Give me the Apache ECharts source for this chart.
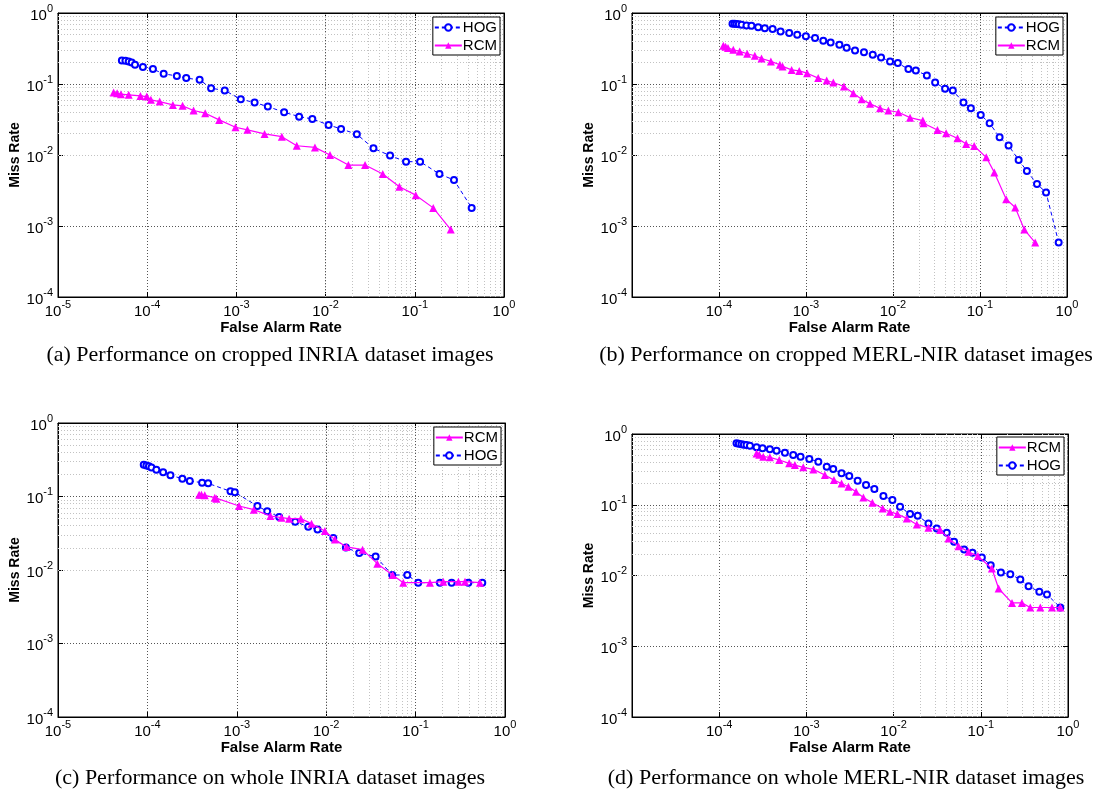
<!DOCTYPE html>
<html>
<head>
<meta charset="utf-8">
<script src="https://cdn.jsdelivr.net/npm/echarts@6/dist/echarts.min.js"></script>
<style>
  html, body { margin: 0; padding: 0; background: #fff; }
  #main { width: 1096px; height: 793px; }
</style>
</head>
<body>
<div id="main"></div>
<script>
// (a) cropped INRIA
const aHogFar = [5.2e-5, 5.7e-5, 6.2e-5, 6.7e-5, 7.3e-5, 8.95e-5, 1.16e-4, 1.53e-4, 2.15e-4, 2.74e-4, 3.87e-4, 5.2e-4, 7.4e-4, 1.12e-3, 1.6e-3, 2.25e-3, 3.43e-3, 5.05e-3, 7.1e-3, 0.0108, 0.0149, 0.0224, 0.0344, 0.0528, 0.0798, 0.1146, 0.189, 0.275, 0.434];
const aHogMiss = [0.215, 0.212, 0.208, 0.201, 0.187, 0.173, 0.162, 0.139, 0.130, 0.121, 0.1145, 0.0873, 0.081, 0.061, 0.0548, 0.0481, 0.040, 0.0347, 0.0322, 0.0265, 0.0233, 0.0196, 0.0124, 0.0098, 0.00805, 0.00805, 0.0054, 0.00444, 0.0018];
const aRcmFar = [4.2e-5, 4.6e-5, 5.08e-5, 6.2e-5, 8.4e-5, 9.9e-5, 1.1e-4, 1.38e-4, 1.94e-4, 2.49e-4, 3.31e-4, 4.47e-4, 6.41e-4, 9.77e-4, 1.33e-3, 2.07e-3, 3.23e-3, 4.75e-3, 7.6e-3, 0.0112, 0.018, 0.0277, 0.0437, 0.0672, 0.1024, 0.161, 0.253];
const aRcmMiss = [0.0759, 0.0743, 0.0718, 0.0703, 0.068, 0.0666, 0.0598, 0.0566, 0.0508, 0.0492, 0.0423, 0.0388, 0.0312, 0.0246, 0.0226, 0.0198, 0.0181, 0.0135, 0.0128, 0.0100, 0.00722, 0.00722, 0.0054, 0.00357, 0.00272, 0.0018, 0.00089];

// (b) cropped MERL-NIR
const bHogFar = [1.43e-4, 1.51e-4, 1.59e-4, 1.69e-4, 1.82e-4, 2.07e-4, 2.36e-4, 2.82e-4, 3.36e-4, 4.13e-4, 5.1e-4, 6.41e-4, 7.93e-4, 9.97e-4, 1.27e-3, 1.58e-3, 1.92e-3, 2.42e-3, 2.93e-3, 3.66e-3, 4.64e-3, 5.85e-3, 7.29e-3, 9.25e-3, 0.01135, 0.01504, 0.0183, 0.0245, 0.0305, 0.0397, 0.0487, 0.0646, 0.0785, 0.102, 0.129, 0.168, 0.213, 0.278, 0.346, 0.452, 0.574, 0.802];
const bHogMiss = [0.707, 0.703, 0.699, 0.692, 0.684, 0.669, 0.662, 0.628, 0.608, 0.594, 0.551, 0.522, 0.494, 0.469, 0.444, 0.407, 0.385, 0.357, 0.324, 0.297, 0.279, 0.258, 0.237, 0.208, 0.197, 0.162, 0.155, 0.132, 0.105, 0.0855, 0.081, 0.0548, 0.0456, 0.0367, 0.028, 0.0178, 0.0136, 0.0085, 0.00594, 0.0039, 0.00297, 0.000585];
const bRcmFar = [1.12e-4, 1.19e-4, 1.27e-4, 1.46e-4, 1.73e-4, 2.11e-4, 2.58e-4, 3.08e-4, 3.95e-4, 5.01e-4, 5.38e-4, 6.83e-4, 8.36e-4, 1.03e-3, 1.38e-3, 1.73e-3, 2.06e-3, 2.73e-3, 3.5e-3, 4.36e-3, 5.45e-3, 7.1e-3, 8.85e-3, 0.01153, 0.0157, 0.022, 0.0224, 0.0324, 0.0408, 0.0551, 0.0693, 0.0857, 0.118, 0.146, 0.2, 0.254, 0.323, 0.431];
const bRcmMiss = [0.346, 0.335, 0.321, 0.304, 0.288, 0.267, 0.250, 0.229, 0.208, 0.187, 0.177, 0.158, 0.153, 0.142, 0.121, 0.112, 0.105, 0.0922, 0.0743, 0.0611, 0.0525, 0.0456, 0.0423, 0.040, 0.0336, 0.0305, 0.028, 0.0225, 0.0202, 0.0172, 0.0143, 0.0134, 0.00927, 0.00569, 0.00239, 0.00182, 0.00089, 0.000585];

// (c) whole INRIA
const cHogFar = [9.1e-5, 9.75e-5, 1.04e-4, 1.11e-4, 1.26e-4, 1.5e-4, 1.81e-4, 2.46e-4, 2.98e-4, 4.09e-4, 4.78e-4, 8.5e-4, 9.5e-4, 1.70e-3, 2.19e-3, 2.98e-3, 4.5e-3, 6.3e-3, 8.0e-3, 0.012, 0.0166, 0.0234, 0.0357, 0.0548, 0.0807, 0.107, 0.187, 0.253, 0.389, 0.557];
const cHogMiss = [0.271, 0.265, 0.257, 0.249, 0.232, 0.213, 0.194, 0.175, 0.163, 0.154, 0.151, 0.1175, 0.114, 0.0742, 0.0629, 0.0526, 0.0455, 0.0389, 0.0357, 0.0272, 0.0203, 0.0170, 0.0153, 0.00855, 0.00855, 0.00673, 0.00673, 0.00673, 0.00673, 0.00673];
const cRcmFar = [3.79e-4, 4.02e-4, 4.38e-4, 5.67e-4, 5.92e-4, 1.06e-3, 1.55e-3, 2.38e-3, 3.16e-3, 3.85e-3, 5.2e-3, 6.85e-3, 9.66e-3, 0.0125, 0.0169, 0.0255, 0.0373, 0.0553, 0.0728, 0.1446, 0.204, 0.301, 0.357, 0.525];
const cRcmMiss = [0.106, 0.106, 0.1037, 0.0964, 0.0934, 0.0743, 0.0662, 0.0543, 0.0515, 0.050, 0.050, 0.0427, 0.034, 0.0259, 0.0206, 0.0189, 0.0122, 0.00855, 0.00673, 0.00673, 0.00694, 0.00694, 0.00694, 0.00673];

// (d) whole MERL-NIR
const dHogFar = [1.58e-4, 1.68e-4, 1.8e-4, 1.92e-4, 2.06e-4, 2.25e-4, 2.68e-4, 3.14e-4, 3.81e-4, 4.55e-4, 5.67e-4, 7.06e-4, 8.57e-4, 1.08e-3, 1.37e-3, 1.71e-3, 2.03e-3, 2.53e-3, 3.1e-3, 3.87e-3, 4.83e-3, 6.02e-3, 7.64e-3, 9.69e-3, 0.01186, 0.01545, 0.0189, 0.0251, 0.0313, 0.0407, 0.0494, 0.0644, 0.0803, 0.1028, 0.130, 0.170, 0.218, 0.284, 0.353, 0.469, 0.574, 0.816];
const dHogMiss = [0.738, 0.73, 0.714, 0.707, 0.699, 0.684, 0.648, 0.627, 0.607, 0.581, 0.545, 0.505, 0.478, 0.443, 0.406, 0.345, 0.320, 0.278, 0.255, 0.219, 0.19, 0.167, 0.133, 0.1165, 0.0937, 0.0738, 0.0699, 0.0544, 0.0463, 0.0401, 0.0299, 0.0233, 0.0209, 0.0180, 0.014, 0.0110, 0.01044, 0.00877, 0.00706, 0.00587, 0.00539, 0.00353];
const dRcmFar = [2.68e-4, 2.88e-4, 3.2e-4, 3.81e-4, 4.88e-4, 6.35e-4, 7.38e-4, 9.2e-4, 1.2e-3, 1.63e-3, 2.07e-3, 2.53e-3, 3.03e-3, 3.71e-3, 4.5e-3, 5.71e-3, 7.5e-3, 9.1e-3, 0.01106, 0.01415, 0.01845, 0.0251, 0.0342, 0.0426, 0.0555, 0.0723, 0.0925, 0.134, 0.160, 0.228, 0.296, 0.369, 0.481, 0.655, 0.816];
const dRcmMiss = [0.532, 0.510, 0.478, 0.468, 0.429, 0.385, 0.364, 0.338, 0.316, 0.263, 0.223, 0.2, 0.18, 0.153, 0.127, 0.1067, 0.0887, 0.0796, 0.0738, 0.0641, 0.0527, 0.0473, 0.0438, 0.0334, 0.026, 0.0216, 0.0188, 0.01256, 0.00655, 0.0041, 0.0041, 0.00353, 0.00353, 0.00353, 0.00353];

const captions = [
  "(a) Performance on cropped INRIA dataset images",
  "(b) Performance on cropped MERL-NIR dataset images",
  "(c) Performance on whole INRIA dataset images",
  "(d) Performance on whole MERL-NIR dataset images"
];

const sans = "Liberation Sans";
const serif = "Liberation Serif";

// minor grid positions 2..9 x 10^k
const minorX = [];
for (let k = -5; k < 0; k++) for (let m = 2; m <= 9; m++) minorX.push(m * Math.pow(10, k));
const minorY = [];
for (let k = -4; k < 0; k++) for (let m = 2; m <= 9; m++) minorY.push(m * Math.pow(10, k));

const zip = (xs, ys) => xs.map((x, i) => [x, ys[i]]);

const panels = [
  { grid: { left: 58, top: 13, width: 446, height: 284 }, hog: zip(aHogFar, aHogMiss), rcm: zip(aRcmFar, aRcmMiss), order: ["HOG", "RCM"], legend: { right: 596, top: 17 }, cap: [270, 355], skipX: false },
  { grid: { left: 632, top: 13, width: 435, height: 284 }, hog: zip(bHogFar, bHogMiss), rcm: zip(bRcmFar, bRcmMiss), order: ["HOG", "RCM"], legend: { right: 33, top: 17 }, cap: [846, 355], skipX: true },
  { grid: { left: 58, top: 423, width: 447, height: 294 }, hog: zip(cHogFar, cHogMiss), rcm: zip(cRcmFar, cRcmMiss), order: ["RCM", "HOG"], legend: { right: 595, top: 427 }, cap: [270, 778], skipX: false },
  { grid: { left: 632, top: 434, width: 436, height: 283 }, hog: zip(dHogFar, dHogMiss), rcm: zip(dRcmFar, dRcmMiss), order: ["RCM", "HOG"], legend: { right: 32, top: 437 }, cap: [846, 778], skipX: true }
];

const sup = v => "{b|10}{s|" + Math.round(Math.log10(v)) + "}";
const rich = {
  b: { fontSize: 15, fontFamily: sans, color: "#000", padding: [5, 0, 0, 0] },
  s: { fontSize: 11, fontFamily: sans, color: "#000", verticalAlign: "top" }
};

const grids = [], xAxes = [], yAxes = [], series = [], legends = [], texts = [];

panels.forEach((p, i) => {
  grids.push(Object.assign({ show: true, borderColor: "#000", borderWidth: 1, outerBoundsMode: "none" }, p.grid));

  const tick = { show: true, inside: true, length: 5, lineStyle: { color: "#000" } };
  const major = { show: true, lineStyle: { type: [1, 2], color: "#555", width: 1 } };
  xAxes.push({
    type: "log", logBase: 10, gridIndex: i, min: 1e-5, max: 1, position: "bottom",
    name: "False Alarm Rate", nameLocation: "middle", nameGap: 23,
    nameTextStyle: { fontFamily: sans, fontWeight: "bold", fontSize: 15, color: "#000" },
    axisLine: { show: true, lineStyle: { color: "#000" } },
    axisTick: tick,
    axisLabel: { margin: 2, rich, formatter: v => (p.skipX && v < 2e-5) ? "" : sup(v) },
    splitLine: major
  });
  xAxes.push({
    type: "log", logBase: 10, gridIndex: i, min: 1e-5, max: 1, position: "top",
    axisLine: { show: true, lineStyle: { color: "#000" } },
    axisTick: tick, axisLabel: { show: false }, splitLine: { show: false }
  });
  yAxes.push({
    type: "log", logBase: 10, gridIndex: i, min: 1e-4, max: 1, position: "left",
    name: "Miss Rate", nameLocation: "middle", nameGap: 36,
    nameTextStyle: { fontFamily: sans, fontWeight: "bold", fontSize: 14, color: "#000" },
    axisLine: { show: true, lineStyle: { color: "#000" } },
    axisTick: tick,
    axisLabel: { margin: 5, rich, formatter: sup },
    splitLine: major
  });
  yAxes.push({
    type: "log", logBase: 10, gridIndex: i, min: 1e-4, max: 1, position: "right",
    axisLine: { show: true, lineStyle: { color: "#000" } },
    axisTick: tick, axisLabel: { show: false }, splitLine: { show: false }
  });

  const xi = 2 * i, yi = 2 * i;
  // minor grid
  series.push({
    type: "line", xAxisIndex: xi, yAxisIndex: yi, data: [], silent: true, z: 1,
    markLine: {
      silent: true, z: 1, symbol: ["none", "none"], label: { show: false }, animation: false,
      lineStyle: { type: [1, 2], color: "#c2c2c2", width: 1 },
      emphasis: { disabled: true },
      data: minorX.map(v => ({ xAxis: v })).concat(minorY.map(v => ({ yAxis: v })))
    }
  });
  const hog = {
    name: "HOG", type: "line", xAxisIndex: xi, yAxisIndex: yi, data: p.hog, z: 3,
    symbol: "emptyCircle", symbolSize: 6,
    itemStyle: { color: "#0000ff", borderColor: "#0000ff", borderWidth: 1.2 },
    lineStyle: { color: "#0000ff", width: 1, type: [4, 3] }
  };
  const rcm = {
    name: "RCM", type: "line", xAxisIndex: xi, yAxisIndex: yi, data: p.rcm, z: 4,
    symbol: "triangle", symbolSize: 8,
    itemStyle: { color: "#ff00ff" },
    lineStyle: { color: "#ff00ff", width: 1.2 }
  };
  if (p.order[0] === "HOG") series.push(hog, rcm); else series.push(rcm, hog);

  legends.push({
    data: p.order, orient: "vertical", right: p.legend.right, top: p.legend.top,
    backgroundColor: "#fff", borderColor: "#000", borderWidth: 1,
    padding: [3, 3, 2, 1], itemGap: 3, itemWidth: 27, itemHeight: 8,
    selectedMode: false,
    textStyle: { fontFamily: sans, fontSize: 15, color: "#000", padding: [0, 0, 0, -4] }
  });

  texts.push({
    type: "text", x: p.cap[0], y: p.cap[1],
    style: { text: captions[i], font: '22px "' + serif + '"', fill: "#000", textAlign: "center", textVerticalAlign: "middle" }
  });
});

const chart = echarts.init(document.getElementById("main"), null, { renderer: "canvas" });
chart.setOption({
  animation: false,
  backgroundColor: "#fff",
  grid: grids,
  xAxis: xAxes,
  yAxis: yAxes,
  legend: legends,
  series: series,
  graphic: texts
});
</script>
</body>
</html>
